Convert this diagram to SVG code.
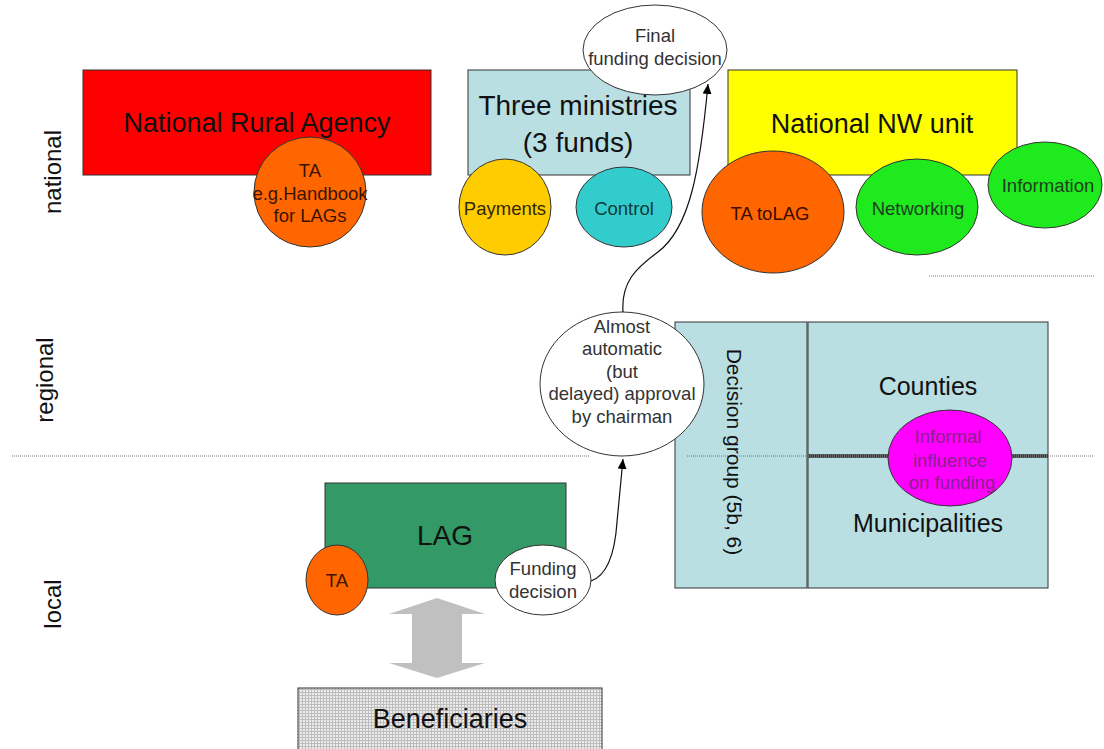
<svg xmlns="http://www.w3.org/2000/svg" width="1104" height="749" viewBox="0 0 1104 749">
<style>
text{font-family:"Liberation Sans",Arial,sans-serif;fill:#111;text-anchor:middle}
.big{font-size:27px}
.mid{font-size:25px}
.sm{font-size:18.5px}
.lvl{font-size:24px}
.box{stroke:#333;stroke-width:1}
.dot{stroke:#777;stroke-width:1;stroke-dasharray:1 1;fill:none}
.conn{fill:none;stroke:#111;stroke-width:1.2}
</style>
<defs>
<marker id="ah" markerWidth="10" markerHeight="9" refX="10" refY="4.5" orient="auto" markerUnits="userSpaceOnUse">
<path d="M0,0 L10,4.5 L0,9 z" fill="#000"/>
</marker>
<pattern id="mesh" width="3" height="3" patternUnits="userSpaceOnUse">
<rect width="3" height="3" fill="#bdbdbd"/>
<rect width="2" height="2" fill="#ececec"/>
</pattern>
</defs>
<rect width="1104" height="749" fill="#fff"/>

<g id="levels">
<text class="lvl" transform="rotate(-90 61 172)" x="61" y="172">national</text>
<text class="lvl" transform="rotate(-90 53 380)" x="53" y="380">regional</text>
<text class="lvl" transform="rotate(-90 61 604)" x="61" y="604">local</text>
<line class="dot" x1="929" y1="276" x2="1094" y2="276"/>
<line class="dot" x1="12" y1="456" x2="590" y2="456"/>
</g>

<g id="nra">
<rect class="box" x="83" y="70" width="348" height="105" fill="#ff0000"/>
<text class="big" x="257" y="132" fill="#2a0000">National Rural Agency</text>
</g>
<g id="ta-nra">
<ellipse class="box" cx="310" cy="192" rx="56" ry="55" fill="#ff6600"/>
<text class="sm" x="310" y="177" style="fill:#3a1400">TA</text>
<text class="sm" x="310" y="200" style="fill:#3a1400">e.g.Handbook</text>
<text class="sm" x="310" y="222" style="fill:#3a1400">for LAGs</text>
</g>

<g id="ministries">
<rect class="box" x="468" y="70" width="222" height="105" fill="#b9dfe3"/>
<text x="578" y="115" style="font-size:28px">Three ministries</text>
<text x="578" y="152" style="font-size:28px">(3 funds)</text>
</g>
<g id="payments">
<ellipse class="box" cx="505" cy="207" rx="46" ry="48" fill="#ffcc00"/>
<text class="sm" x="505" y="215" style="fill:#332a00">Payments</text>
</g>
<g id="control">
<ellipse class="box" cx="624" cy="207" rx="48" ry="40" fill="#33cccc"/>
<text class="sm" x="624" y="215" style="fill:#0f3b3b">Control</text>
</g>
<g id="final">
<ellipse class="box" cx="655" cy="50" rx="72" ry="45" fill="#fff"/>
<text class="sm" x="655" y="42" style="fill:#333">Final</text>
<text class="sm" x="655" y="65" style="fill:#333">funding decision</text>
</g>

<g id="nwunit">
<rect class="box" x="728" y="70" width="289" height="105" fill="#ffff00"/>
<text class="big" x="872" y="133">National NW unit</text>
</g>
<g id="ta-lag-nat">
<ellipse class="box" cx="773" cy="212" rx="71" ry="61" fill="#ff6600"/>
<text class="sm" x="770" y="220" style="fill:#3a0a00">TA toLAG</text>
</g>
<g id="networking">
<ellipse class="box" cx="917" cy="207" rx="61" ry="48" fill="#1eea1e"/>
<text class="sm" x="918" y="215" style="fill:#1d3f1d">Networking</text>
</g>
<g id="information">
<ellipse class="box" cx="1045" cy="185" rx="57" ry="43" fill="#1eea1e"/>
<text class="sm" x="1048" y="192" style="fill:#1d3f1d">Information</text>
</g>

<g id="decisiongroup">
<rect class="box" x="675" y="322" width="132" height="266" fill="#b9dfe3"/>
<line class="dot" x1="687" y1="456" x2="807" y2="456"/>
<text transform="rotate(90 727 452)" x="727" y="452" style="font-size:21px">Decision group (5b, 6)</text>
</g>

<g id="approval">
<ellipse class="box" cx="622" cy="384" rx="82" ry="72" fill="#fff"/>
<text class="sm" x="622" y="333" style="fill:#333">Almost</text>
<text class="sm" x="622" y="355" style="fill:#333">automatic</text>
<text class="sm" x="622" y="378" style="fill:#333">(but</text>
<text class="sm" x="622" y="400" style="fill:#333">delayed) approval</text>
<text class="sm" x="622" y="423" style="fill:#333">by chairman</text>
</g>

<g id="counties">
<rect class="box" x="808" y="322" width="240" height="266" fill="#b9dfe3"/>
<line x1="808" y1="456" x2="1048" y2="456" stroke="#333" stroke-width="3.5"/>
<line x1="808" y1="456" x2="1048" y2="456" stroke="#aaa" stroke-width="1" stroke-dasharray="1 1"/>
<line class="dot" x1="1048" y1="456" x2="1094" y2="456"/>
<text class="mid" x="928" y="395">Counties</text>
<text class="mid" x="928" y="532">Municipalities</text>
</g>
<g id="informal">
<ellipse class="box" cx="950" cy="458" rx="62" ry="48" fill="#ff00ff"/>
<text class="sm" x="948" y="443" style="fill:#8a2090">Informal</text>
<text class="sm" x="950" y="467" style="fill:#8a2090">influence</text>
<text class="sm" x="952" y="489" style="fill:#8a2090">on funding</text>
</g>

<g id="lag">
<rect class="box" x="325" y="483" width="241" height="105" fill="#339966"/>
<text x="445" y="545" style="font-size:28px">LAG</text>
</g>
<g id="ta-lag">
<ellipse class="box" cx="337" cy="580" rx="31" ry="35" fill="#ff6600"/>
<text class="sm" x="337" y="587" style="fill:#3a1400">TA</text>
</g>
<g id="funding">
<ellipse class="box" cx="543" cy="580" rx="48" ry="35" fill="#fff"/>
<text class="sm" x="543" y="575" style="fill:#333">Funding</text>
<text class="sm" x="543" y="598" style="fill:#333">decision</text>
</g>

<g id="beneficiaries">
<rect class="box" x="298" y="688" width="304" height="70" fill="url(#mesh)"/>
<text class="big" x="450" y="728">Beneficiaries</text>
</g>

<g id="connectors">
<path d="M437,598 L485,614 L462,614 L462,663 L485,663 L437,678 L389,663 L412,663 L412,614 L389,614 Z" fill="#c0c0c0"/>
<path class="conn" d="M591,581 C608,575 615,552 617,522 L623,459" marker-end="url(#ah)"/>
<path class="conn" d="M623,312 C621,282 636,268 658,252 C690,228 700,170 708,84" marker-end="url(#ah)"/>
</g>
</svg>
